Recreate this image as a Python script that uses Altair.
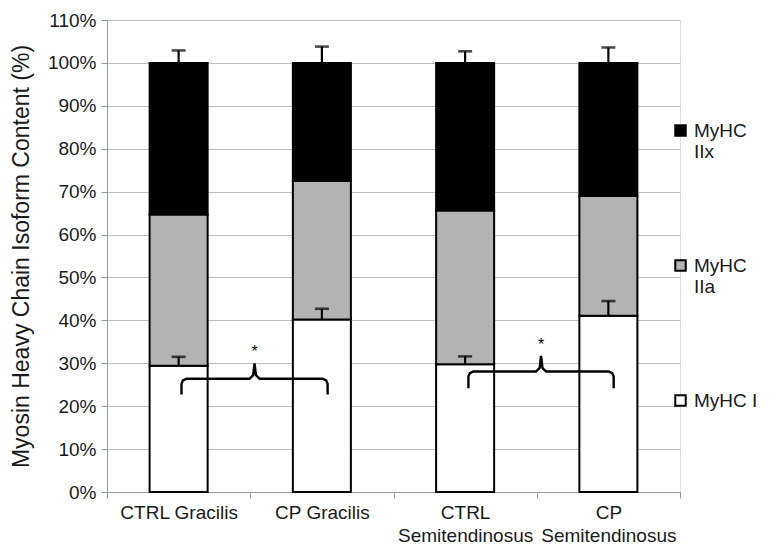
import altair as alt
import pandas as pd

# ---------------- data ----------------
categories = ["CTRL Gracilis", "CP Gracilis", "CTRL Semitendinosus", "CP Semitendinosus"]
isoforms = ["MyHC IIx", "MyHC IIa", "MyHC I"]
iso_colors = ["#000000", "#b3b3b3", "#ffffff"]

myhc_i = [29.4, 40.2, 29.8, 41.1]      # % MyHC I
myhc_iia = [35.3, 32.3, 35.8, 27.9]    # % MyHC IIa
myhc_iix = [35.3, 27.5, 34.4, 31.0]    # % MyHC IIx
err_i = [2.1, 2.5, 1.8, 3.4]           # upper error on MyHC I
err_total = [2.9, 3.8, 2.7, 3.6]       # upper error on total (100%)

y_ticks = [0, 10, 20, 30, 40, 50, 60, 70, 80, 90, 100, 110]

# significance brackets: x in band units (band k spans k..k+1), y in %
bracket_id = [1] * 13 + [2] * 13
bracket_x = [0.52, 0.52, 0.53, 0.555, 0.995, 1.02, 1.03, 1.04, 1.065, 1.505, 1.53, 1.54, 1.54,
             2.523, 2.523, 2.533, 2.558, 2.995, 3.02, 3.03, 3.04, 3.065, 3.502, 3.527, 3.537, 3.537]
bracket_y = [22.7, 25.2, 26.0, 26.4, 26.4, 27.2, 30.0, 27.2, 26.4, 26.4, 26.0, 25.2, 22.7,
             24.2, 26.9, 27.7, 28.1, 28.1, 28.9, 31.7, 28.9, 28.1, 28.1, 27.7, 26.9, 24.2]
star_x = [1.03, 3.03]
star_y = [32.6, 34.3]
star_text = ["*", "*"]

FONT = "Liberation Sans"

# ---------------- tables ----------------
rows = []
for c, a, b, d in zip(categories, myhc_i, myhc_iia, myhc_iix):
    rows.append({"cat": c, "iso": "MyHC I", "val": a / 100, "ord": 0})
    rows.append({"cat": c, "iso": "MyHC IIa", "val": b / 100, "ord": 1})
    rows.append({"cat": c, "iso": "MyHC IIx", "val": d / 100, "ord": 2})
bars_df = pd.DataFrame(rows)

err_rows = []
for c, a, e1, e2 in zip(categories, myhc_i, err_i, err_total):
    err_rows.append({"cat": c, "lo": a / 100, "hi": (a + e1) / 100})
    err_rows.append({"cat": c, "lo": 1.0, "hi": (100 + e2) / 100})
err_df = pd.DataFrame(err_rows)

br_df = pd.DataFrame({
    "g": bracket_id,
    "i": list(range(len(bracket_x))),
    "x": bracket_x,
    "y": [v / 100 for v in bracket_y],
})
star_df = pd.DataFrame({"x": star_x, "y": [v / 100 for v in star_y], "t": star_text})

# ---------------- encodings ----------------
x_enc = alt.X(
    "cat:N",
    sort=categories,
    scale=alt.Scale(domain=categories, paddingInner=0, paddingOuter=0),
    axis=alt.Axis(
        title=None, labelAngle=0, tickBand="extent", domainColor="#9a9a9a",
        tickColor="#9a9a9a", tickSize=6, labelFontSize=19, labelColor="#1a1a1a",
        labelPadding=5, labelLineHeight=23, labelFont=FONT,
        labelExpr="indexof(datum.label, 'Semitendinosus') >= 0 ? split(datum.label, ' ') : datum.label",
        grid=False,
    ),
)
y_scale = alt.Scale(domain=[0, 1.1], nice=False)
y_enc = alt.Y(
    "val:Q",
    stack="zero",
    scale=y_scale,
    axis=alt.Axis(
        title="Myosin Heavy Chain Isoform Content (%)", titleFontSize=23,
        titleFontWeight="normal", titleFont=FONT, titleColor="#1a1a1a", titlePadding=14,
        values=[v / 100 for v in y_ticks], format=".0%", labelFontSize=19,
        labelFont=FONT, labelColor="#1a1a1a", labelPadding=5,
        domainColor="#9a9a9a", tickColor="#9a9a9a", tickSize=6,
        gridColor="#bdbdbd", gridWidth=1.2,
    ),
)

bars = alt.Chart(bars_df).mark_bar(
    width=alt.RelativeBandSize(0.405), stroke="black", strokeWidth=2
).encode(
    x=x_enc,
    y=y_enc,
    color=alt.Color(
        "iso:N",
        scale=alt.Scale(domain=isoforms, range=iso_colors),
        legend=alt.Legend(
            title=None, orient="none", legendX=564, legendY=101,
            symbolType="square", symbolSize=110, symbolStrokeColor="black",
            symbolStrokeWidth=2, labelFontSize=19, labelFont=FONT,
            labelColor="#1a1a1a", labelLimit=300, rowPadding=94, labelOffset=4,
            labelBaseline="middle",
            labelExpr="datum.label == 'MyHC I' ? datum.label : split(datum.label, ' ')",
        ),
    ),
    order=alt.Order("ord:Q", sort="ascending"),
)

err_rule = alt.Chart(err_df).mark_rule(color="black", strokeWidth=2.2).encode(
    x=alt.X("cat:N", sort=categories), y=alt.Y("lo:Q"), y2="hi:Q"
)
err_cap = alt.Chart(err_df).mark_tick(color="black", size=14, thickness=2.6).encode(
    x=alt.X("cat:N", sort=categories), y=alt.Y("hi:Q")
)

base_layer = alt.layer(bars, err_rule, err_cap)

bx = alt.X("x:Q", scale=alt.Scale(domain=[0, 4], nice=False, zero=False), axis=None)
brackets = alt.Chart(br_df).mark_line(color="black", strokeWidth=2.4, interpolate="linear").encode(
    x=bx, y=alt.Y("y:Q"), detail="g:N", order="i:Q"
)
stars = alt.Chart(star_df).mark_text(fontSize=16, font=FONT, color="black", baseline="middle").encode(
    x=bx, y=alt.Y("y:Q"), text="t:N"
)
ann_layer = alt.layer(brackets, stars)

chart = alt.layer(base_layer, ann_layer).resolve_scale(x="independent").properties(
    width=573, height=472,
    autosize=alt.AutoSizeParams(type="none"),
    padding={"left": 99, "top": 12, "right": 80, "bottom": 56},
).configure_view(stroke=None).configure(font=FONT)

chart.save("out.html", embed_options={"renderer": "svg", "actions": False})
